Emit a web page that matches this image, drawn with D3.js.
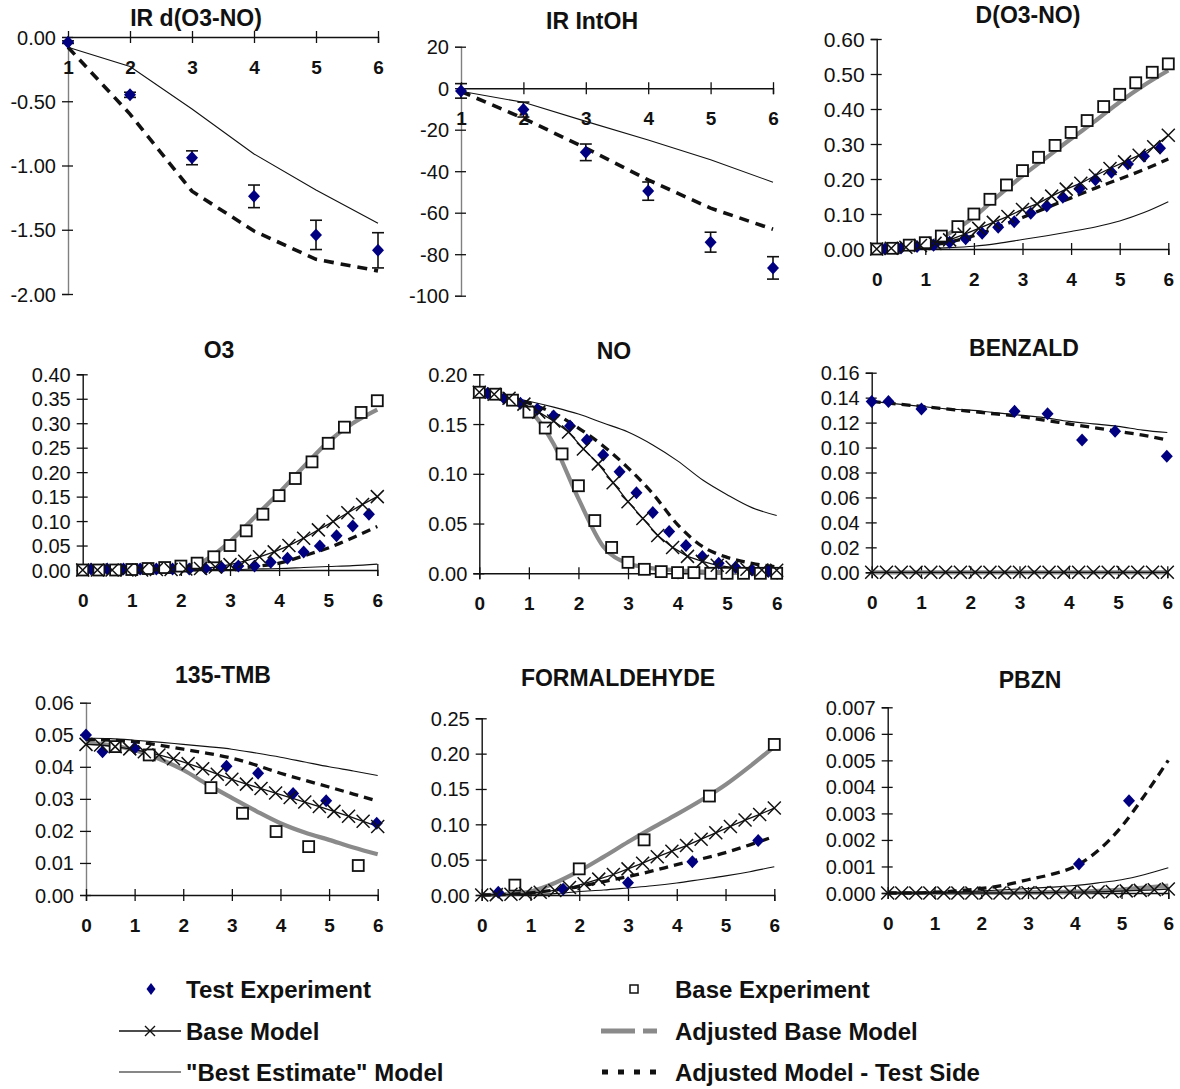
<!DOCTYPE html>
<html>
<head>
<meta charset="utf-8">
<script src="https://cdn.jsdelivr.net/npm/d3@7"></script>
<style>
  body { margin: 0; background: #fff; }
  svg { display: block; font-family: "Liberation Sans", Arial, sans-serif; }
</style>
</head>
<body>
<svg id="chart" width="1180" height="1089"></svg>
<script>
// ---------- sampling times (hours) ----------
const irX    = [1, 2, 3, 4, 5, 6];
const tExp   = [0, 0.33, 0.67, 1, 1.33, 1.67, 2, 2.33, 2.67, 3, 3.33, 3.67, 4, 4.33, 4.67, 5, 5.33, 5.67, 6];
const tTest  = [0.17, 0.5, 0.83, 1.17, 1.5, 1.83, 2.17, 2.5, 2.83, 3.17, 3.5, 3.83, 4.17, 4.5, 4.83, 5.17, 5.5, 5.83];
const tModel = [0, 0.3, 0.6, 0.9, 1.2, 1.5, 1.8, 2.1, 2.4, 2.7, 3, 3.3, 3.6, 3.9, 4.2, 4.5, 4.8, 5.1, 5.4, 5.7, 6];
const tCurve = [0, 0.5, 1, 1.5, 2, 2.5, 3, 3.5, 4, 4.5, 5, 5.5, 6];

// ---------- IR d(O3-NO) ----------
const irdTest = [-0.04, -0.45, -0.94, -1.24, -1.54, -1.66];
const irdErr  = [0.01, 0.02, 0.054, 0.088, 0.114, 0.137];
const irdBest = [-0.08, -0.23, -0.56, -0.91, -1.19, -1.45];
const irdAdj  = [-0.08, -0.60, -1.20, -1.51, -1.73, -1.82];

// ---------- IR IntOH ----------
const irohTest = [-1.3, -10.3, -30.9, -49.6, -74.2, -86.6];
const irohErr  = [3.5, 3.6, 4.0, 4.4, 4.8, 5.4];
const irohBest = [-1.5, -6.8, -16.0, -25.0, -34.5, -45.3];
const irohAdj  = [-1.6, -14.5, -28.9, -44.2, -57.8, -68.0];

// ---------- D(O3-NO) ----------
const dTest     = [0, 0.003, 0.007, 0.011, 0.019, 0.029, 0.045, 0.062, 0.078, 0.102, 0.123, 0.148, 0.172, 0.198, 0.219, 0.243, 0.265, 0.288];
const dBase     = [0, 0.002, 0.011, 0.018, 0.037, 0.064, 0.100, 0.142, 0.183, 0.224, 0.262, 0.296, 0.333, 0.367, 0.407, 0.442, 0.475, 0.505, 0.529];
const dModel    = [0, 0.002, 0.005, 0.010, 0.016, 0.026, 0.042, 0.059, 0.076, 0.093, 0.113, 0.129, 0.151, 0.171, 0.188, 0.210, 0.230, 0.249, 0.268, 0.292, 0.325];
const dAdjBase  = [0, 0.003, 0.015, 0.045, 0.091, 0.152, 0.209, 0.262, 0.315, 0.366, 0.420, 0.468, 0.510];
const dAdjTest  = [0, 0.003, 0.009, 0.020, 0.038, 0.063, 0.090, 0.118, 0.146, 0.174, 0.200, 0.227, 0.257];
const dBest     = [0, 0.001, 0.002, 0.004, 0.008, 0.016, 0.027, 0.038, 0.050, 0.063, 0.080, 0.104, 0.135];

// ---------- O3 ----------
const o3Test    = [0.002, 0.002, 0.002, 0.002, 0.002, 0.002, 0.002, 0.003, 0.005, 0.008, 0.008, 0.016, 0.024, 0.037, 0.049, 0.070, 0.090, 0.114];
const o3Base    = [0, 0, 0, 0.001, 0.003, 0.005, 0.008, 0.014, 0.027, 0.050, 0.080, 0.114, 0.152, 0.187, 0.221, 0.259, 0.292, 0.322, 0.346];
const o3Model   = [0, 0, 0, 0, 0, 0.001, 0.001, 0.002, 0.003, 0.006, 0.011, 0.018, 0.027, 0.037, 0.050, 0.065, 0.082, 0.099, 0.117, 0.134, 0.150];
const o3AdjBase = [0, 0, 0, 0.001, 0.004, 0.020, 0.058, 0.108, 0.158, 0.211, 0.262, 0.300, 0.328];
const o3AdjTest = [0, 0, 0, 0, 0, 0.001, 0.003, 0.007, 0.014, 0.029, 0.045, 0.066, 0.089];
const o3Best    = [0, 0, 0, 0, 0, 0.001, 0.001, 0.002, 0.003, 0.005, 0.007, 0.009, 0.012];

// ---------- NO ----------
const noTest    = [0.181, 0.176, 0.171, 0.165, 0.158, 0.148, 0.134, 0.119, 0.102, 0.081, 0.061, 0.042, 0.028, 0.017, 0.010, 0.006, 0.0034, 0.0017];
const noBase    = [0.182, 0.180, 0.174, 0.162, 0.146, 0.120, 0.088, 0.053, 0.026, 0.011, 0.004, 0.0017, 0.0007, 0.0007, 0, 0, 0, 0, 0];
const noModel   = [0.182, 0.180, 0.176, 0.170, 0.162, 0.153, 0.142, 0.125, 0.110, 0.091, 0.072, 0.055, 0.038, 0.026, 0.017, 0.012, 0.008, 0.006, 0.004, 0.0034, 0.003];
const noAdjBase = [0.182, 0.178, 0.165, 0.130, 0.075, 0.027, 0.010, 0.005, 0.003, 0.0017, 0.001, 0.0005, 0.0003];
const noAdjTest = [0.182, 0.178, 0.171, 0.161, 0.146, 0.128, 0.106, 0.080, 0.049, 0.027, 0.016, 0.010, 0.0065];
const noBest    = [0.182, 0.178, 0.173, 0.167, 0.160, 0.151, 0.142, 0.129, 0.113, 0.094, 0.079, 0.066, 0.058];

// ---------- BENZALD ----------
const benzTestT   = [0, 0.34, 1.01, 2.9, 3.57, 4.27, 4.94, 5.99];
const benzTest    = [0.137, 0.137, 0.131, 0.129, 0.127, 0.106, 0.113, 0.093];
const benzModel   = [0, 0, 0, 0, 0, 0, 0, 0, 0, 0, 0, 0, 0, 0, 0, 0, 0, 0, 0, 0, 0];
const benzAdjBase = [0, 0, 0, 0, 0, 0, 0, 0, 0, 0, 0, 0, 0];
const benzAdjTest = [0.137, 0.135, 0.133, 0.131, 0.129, 0.127, 0.125, 0.122, 0.119, 0.116, 0.113, 0.110, 0.106];
const benzBest    = [0.137, 0.135, 0.133, 0.131, 0.130, 0.128, 0.126, 0.124, 0.121, 0.119, 0.117, 0.114, 0.112];

// ---------- 135-TMB ----------
const tmbTestT   = [0, 0.34, 1.0, 2.89, 3.54, 4.26, 4.94, 5.98];
const tmbTest    = [0.0499, 0.0447, 0.0458, 0.0402, 0.0380, 0.0317, 0.0294, 0.0224];
const tmbBaseT   = [0.6, 1.3, 2.57, 3.22, 3.91, 4.58, 5.6];
const tmbBase    = [0.0463, 0.0437, 0.0335, 0.0255, 0.0198, 0.0151, 0.0092];
const tmbModel   = [0.0470, 0.0468, 0.0463, 0.0456, 0.0447, 0.0437, 0.0425, 0.0410, 0.0394, 0.0377, 0.0361, 0.0346, 0.0332, 0.0318, 0.0304, 0.0290, 0.0276, 0.0261, 0.0246, 0.0230, 0.0214];
const tmbAdjBase = [0.0475, 0.0468, 0.0452, 0.0425, 0.0390, 0.0345, 0.0303, 0.0262, 0.0224, 0.0195, 0.0172, 0.0148, 0.0127];
const tmbAdjTest = [0.0485, 0.0483, 0.0478, 0.0468, 0.0455, 0.0442, 0.0427, 0.0405, 0.0380, 0.0358, 0.0337, 0.0315, 0.0293];
const tmbBest    = [0.0490, 0.0488, 0.0483, 0.0477, 0.0470, 0.0463, 0.0455, 0.0443, 0.0430, 0.0415, 0.0400, 0.0387, 0.0373];

// ---------- FORMALDEHYDE ----------
const hchoTestT   = [0.34, 1.67, 3.0, 4.32, 5.67];
const hchoTest    = [0.004, 0.008, 0.0175, 0.047, 0.077];
const hchoBaseT   = [0.68, 2.0, 3.33, 4.67, 6.0];
const hchoBase    = [0.014, 0.037, 0.078, 0.140, 0.213];
const hchoModel   = [0, 0.0005, 0.001, 0.002, 0.004, 0.0065, 0.0105, 0.016, 0.0225, 0.029, 0.037, 0.045, 0.054, 0.062, 0.070, 0.079, 0.088, 0.097, 0.106, 0.114, 0.123];
const hchoAdjBase = [0, 0.001, 0.005, 0.017, 0.034, 0.054, 0.075, 0.095, 0.114, 0.134, 0.156, 0.182, 0.210];
const hchoAdjTest = [0, 0.001, 0.003, 0.007, 0.012, 0.019, 0.026, 0.034, 0.043, 0.051, 0.060, 0.071, 0.083];
const hchoBest    = [0, 0, 0.001, 0.002, 0.005, 0.007, 0.010, 0.013, 0.017, 0.022, 0.027, 0.033, 0.040];

// ---------- PBZN ----------
const pbznTestT   = [4.09, 5.16];
const pbznTest    = [0.00109, 0.00348];
const pbznModel   = [0, 0, 0, 0, 0, 0, 0, 0, 0, 0, 0.00001, 0.00001, 0.00002, 0.00003, 0.00003, 0.00004, 0.00006, 0.00008, 0.0001, 0.00012, 0.00015];
const pbznAdjBase = [0, 0, 0, 0, 0.00001, 0.00001, 0.00002, 0.00003, 0.00005, 0.00008, 0.00013, 0.0002, 0.00028];
const pbznAdjTest = [0, 0, 0.00003, 0.00008, 0.00017, 0.0003, 0.0005, 0.0007, 0.001, 0.0016, 0.0025, 0.0037, 0.0050];
const pbznBest    = [0, 0, 0.00002, 0.00004, 0.00008, 0.00012, 0.00017, 0.00022, 0.00028, 0.00038, 0.0005, 0.0007, 0.00095];

// ---------- tick labels ----------
const hourTicks  = [0, 1, 2, 3, 4, 5, 6];
const irHourTicks = [1, 2, 3, 4, 5, 6];
const irdTicks   = [0, -0.5, -1, -1.5, -2];
const irohTicks  = [20, 0, -20, -40, -60, -80, -100];
const dTicks     = [0, 0.1, 0.2, 0.3, 0.4, 0.5, 0.6];
const o3Ticks    = [0, 0.05, 0.1, 0.15, 0.2, 0.25, 0.3, 0.35, 0.4];
const noTicks    = [0, 0.05, 0.1, 0.15, 0.2];
const benzTicks  = [0, 0.02, 0.04, 0.06, 0.08, 0.1, 0.12, 0.14, 0.16];
const tmbTicks   = [0, 0.01, 0.02, 0.03, 0.04, 0.05, 0.06];
const hchoTicks  = [0, 0.05, 0.1, 0.15, 0.2, 0.25];
const pbznTicks  = [0, 0.001, 0.002, 0.003, 0.004, 0.005, 0.006, 0.007];

// ---------- legend entries ----------
const legendLabels = ["Test Experiment", "Base Experiment", "Base Model", "Adjusted Base Model", "\"Best Estimate\" Model", "Adjusted Model - Test Side"];

// ---------- rendering ----------
const svg = d3.select("#chart");
const locale = d3.formatLocale({ decimal: ".", thousands: ",", grouping: [3], currency: ["", ""], minus: "-" });

const NAVY = "#000080", GREY = "#8a8a8a";

const S = (t, v) => t.map((d, i) => [d, v[i]]);

const panels = [
  { title: "IR d(O3-NO)", tx: 196, ty: 26, left: 68, right: 378, top: 37, bottom: 294,
    xDom: [1, 6], yDom: [-2, 0], xAxisAt: 0, xTicks: irHourTicks, yTicks: irdTicks, yFmt: ".2f", yAxisColor: "#808080",
    test: S(irX, irdTest), err: irdErr, best: S(irX, irdBest), adjTest: S(irX, irdAdj), linear: true },
  { title: "IR IntOH", tx: 592, ty: 29, left: 461, right: 773, top: 46.7, bottom: 295.7,
    xDom: [1, 6], yDom: [-100, 20], xAxisAt: 0, xTicks: irHourTicks, yTicks: irohTicks, yFmt: "d", yAxisColor: "#808080",
    test: S(irX, irohTest), err: irohErr, best: S(irX, irohBest), adjTest: S(irX, irohAdj), linear: true },
  { title: "D(O3-NO)", tx: 1028, ty: 23, left: 876.7, right: 1168.3, top: 39, bottom: 249,
    xDom: [0, 6], yDom: [0, 0.6], xTicks: hourTicks, yTicks: dTicks, yFmt: ".2f", yFont: 21,
    test: S(tTest, dTest), base: S(tExp, dBase), model: S(tModel, dModel),
    adjBase: S(tCurve, dAdjBase), adjTest: S(tCurve, dAdjTest), best: S(tCurve, dBest) },
  { title: "O3", tx: 219, ty: 358, left: 82.7, right: 377.3, top: 374.3, bottom: 570,
    xDom: [0, 6], yDom: [0, 0.4], xTicks: hourTicks, yTicks: o3Ticks, yFmt: ".2f",
    test: S(tTest, o3Test), base: S(tExp, o3Base), model: S(tModel, o3Model),
    adjBase: S(tCurve, o3AdjBase), adjTest: S(tCurve, o3AdjTest), best: S(tCurve, o3Best) },
  { title: "NO", tx: 614, ty: 359, left: 479.3, right: 776.7, top: 374.3, bottom: 573.3,
    xDom: [0, 6], yDom: [0, 0.2], xTicks: hourTicks, yTicks: noTicks, yFmt: ".2f",
    test: S(tTest, noTest), base: S(tExp, noBase), model: S(tModel, noModel),
    adjBase: S(tCurve, noAdjBase), adjTest: S(tCurve, noAdjTest), best: S(tCurve, noBest) },
  { title: "BENZALD", tx: 1024, ty: 356, left: 871.7, right: 1167.3, top: 372.7, bottom: 572.3,
    xDom: [0, 6], yDom: [0, 0.16], xTicks: hourTicks, yTicks: benzTicks, yFmt: ".2f",
    test: S(benzTestT, benzTest), model: S(tModel, benzModel),
    adjBase: S(tCurve, benzAdjBase), adjTest: S(tCurve, benzAdjTest), best: S(tCurve, benzBest) },
  { title: "135-TMB", tx: 223, ty: 683, left: 86, right: 377.7, top: 702.7, bottom: 895,
    xDom: [0, 6], yDom: [0, 0.06], xTicks: hourTicks, yTicks: tmbTicks, yFmt: ".2f", yAxisColor: "#808080",
    test: S(tmbTestT, tmbTest), base: S(tmbBaseT, tmbBase), model: S(tModel, tmbModel),
    adjBase: S(tCurve, tmbAdjBase), adjTest: S(tCurve, tmbAdjTest), best: S(tCurve, tmbBest) },
  { title: "FORMALDEHYDE", tx: 618, ty: 686, left: 481.7, right: 774.3, top: 718.3, bottom: 895,
    xDom: [0, 6], yDom: [0, 0.25], xTicks: hourTicks, yTicks: hchoTicks, yFmt: ".2f",
    test: S(hchoTestT, hchoTest), base: S(hchoBaseT, hchoBase), model: S(tModel, hchoModel),
    adjBase: S(tCurve, hchoAdjBase), adjTest: S(tCurve, hchoAdjTest), best: S(tCurve, hchoBest) },
  { title: "PBZN", tx: 1030, ty: 688, left: 887.7, right: 1168.3, top: 707.3, bottom: 893,
    xDom: [0, 6], yDom: [0, 0.007], xTicks: hourTicks, yTicks: pbznTicks, yFmt: ".3f",
    test: S(pbznTestT, pbznTest), model: S(tModel, pbznModel),
    adjBase: S(tCurve, pbznAdjBase), adjTest: S(tCurve, pbznAdjTest), best: S(tCurve, pbznBest) }
];

const diamondPath = "M0,-6.5L6,0L0,6.5L-6,0Z";
const crossPath = "M-6.5,-6.5L6.5,6.5M-6.5,6.5L6.5,-6.5";

function drawPanel(p) {
  const g = svg.append("g");
  const x = d3.scaleLinear().domain(p.xDom).range([p.left, p.right]);
  const y = d3.scaleLinear().domain(p.yDom).range([p.bottom, p.top]);
  const axisY = p.xAxisAt !== undefined ? y(p.xAxisAt) : p.bottom;

  // title
  g.append("text").attr("x", p.tx).attr("y", p.ty).attr("text-anchor", "middle")
    .attr("font-size", 23).attr("font-weight", "bold").attr("fill", "#111").text(p.title);

  // value axis (ticks cross the line)
  const ya = g.append("g").attr("transform", `translate(${p.left},0)`)
    .call(d3.axisLeft(y).tickValues(p.yTicks).tickFormat(locale.format(p.yFmt)).tickSizeOuter(0).tickSize(6));
  ya.select(".domain").attr("stroke", p.yAxisColor || "#111").attr("stroke-width", 1.4);
  ya.selectAll(".tick line").attr("x1", 5).attr("x2", -6).attr("stroke", "#111").attr("stroke-width", 1.3);
  ya.selectAll(".tick text").attr("x", -12).attr("dy", "0.35em")
    .attr("font-size", p.yFont || 20).attr("font-family", "Liberation Sans, Arial, sans-serif").attr("fill", "#111");
  ya.attr("font-size", null).attr("font-family", null);

  // time axis
  const xa = g.append("g").attr("transform", `translate(0,${axisY})`)
    .call(d3.axisBottom(x).tickValues(p.xTicks).tickFormat(d3.format("d")).tickSizeOuter(0).tickSize(6));
  xa.select(".domain").attr("stroke", "#111").attr("stroke-width", 1.4);
  xa.selectAll(".tick line").attr("y1", -6).attr("y2", 6).attr("stroke", "#111").attr("stroke-width", 1.3);
  xa.selectAll(".tick text").attr("y", 30).attr("dy", "0.35em")
    .attr("font-size", 19).attr("font-weight", "bold")
    .attr("font-family", "Liberation Sans, Arial, sans-serif").attr("fill", "#111");
  xa.attr("font-size", null).attr("font-family", null);

  const line = d3.line().x(d => x(d[0])).y(d => y(d[1]))
    .curve(p.linear ? d3.curveLinear : d3.curveMonotoneX);
  const lineLin = d3.line().x(d => x(d[0])).y(d => y(d[1]));

  if (p.adjBase) g.append("path").attr("d", line(p.adjBase)).attr("fill", "none")
    .attr("stroke", GREY).attr("stroke-width", 4.2);
  if (p.best) g.append("path").attr("d", line(p.best)).attr("fill", "none")
    .attr("stroke", "#111").attr("stroke-width", 1.1);
  if (p.adjTest) g.append("path").attr("d", line(p.adjTest)).attr("fill", "none")
    .attr("stroke", "#111").attr("stroke-width", p.linear ? 3.6 : 3.3)
    .attr("stroke-dasharray", p.linear ? "10,7" : "9,6");
  if (p.model) g.append("path").attr("d", lineLin(p.model)).attr("fill", "none")
    .attr("stroke", "#111").attr("stroke-width", 1.3);

  // error bars
  if (p.err) {
    p.test.forEach((d, i) => {
      const e = p.err[i], cx = x(d[0]);
      const y1 = y(d[1] - e), y2 = y(d[1] + e);
      g.append("line").attr("x1", cx).attr("x2", cx).attr("y1", y1).attr("y2", y2).attr("stroke", "#111").attr("stroke-width", 1.6);
      [y1, y2].forEach(yy => g.append("line").attr("x1", cx - 6).attr("x2", cx + 6).attr("y1", yy).attr("y2", yy)
        .attr("stroke", "#111").attr("stroke-width", 1.6));
    });
  }

  if (p.test) g.selectAll(null).data(p.test).join("path")
    .attr("transform", d => `translate(${x(d[0])},${y(d[1])})`).attr("d", diamondPath).attr("fill", NAVY);
  if (p.base) g.selectAll(null).data(p.base).join("rect")
    .attr("x", d => x(d[0]) - 5.5).attr("y", d => y(d[1]) - 5.5).attr("width", 11).attr("height", 11)
    .attr("fill", "#fff").attr("stroke", "#111").attr("stroke-width", 1.8);
  if (p.model) g.selectAll(null).data(p.model).join("path")
    .attr("transform", d => `translate(${x(d[0])},${y(d[1])})`).attr("d", crossPath)
    .attr("fill", "none").attr("stroke", "#111").attr("stroke-width", 1.5);
}

panels.forEach(drawPanel);

// ---------- legend ----------
const lg = svg.append("g").attr("font-size", 24).attr("font-weight", "bold").attr("fill", "#111");
const rows = [989, 1031, 1072];
const txtL = 186, txtR = 675;
[[txtL, rows[0]], [txtR, rows[0]], [txtL, rows[1]], [txtR, rows[1]], [txtL, rows[2]], [txtR, rows[2]]]
  .forEach((pos, i) => lg.append("text").attr("x", pos[0]).attr("y", pos[1]).attr("dy", "0.36em").text(legendLabels[i]));

lg.append("path").attr("transform", `translate(151,${rows[0]})`).attr("d", "M0,-6L4.5,0L0,6L-4.5,0Z").attr("fill", NAVY);
lg.append("rect").attr("x", 634 - 4).attr("y", rows[0] - 4).attr("width", 8).attr("height", 8)
  .attr("fill", "#fff").attr("stroke", "#111").attr("stroke-width", 1.5);
lg.append("line").attr("x1", 119).attr("x2", 181).attr("y1", rows[1]).attr("y2", rows[1]).attr("stroke", "#111").attr("stroke-width", 1.3);
lg.append("path").attr("transform", `translate(150,${rows[1]})`).attr("d", "M-5,-5L5,5M-5,5L5,-5").attr("stroke", "#111").attr("stroke-width", 1.4);
lg.append("line").attr("x1", 601).attr("x2", 657).attr("y1", rows[1]).attr("y2", rows[1])
  .attr("stroke", GREY).attr("stroke-width", 5).attr("stroke-dasharray", "34,8,14,100");
lg.append("line").attr("x1", 119).attr("x2", 181).attr("y1", rows[2]).attr("y2", rows[2]).attr("stroke", "#111").attr("stroke-width", 1.1);
lg.append("line").attr("x1", 602).attr("x2", 658).attr("y1", rows[2]).attr("y2", rows[2])
  .attr("stroke", "#111").attr("stroke-width", 5).attr("stroke-dasharray", "6,10");
</script>
</body>
</html>
